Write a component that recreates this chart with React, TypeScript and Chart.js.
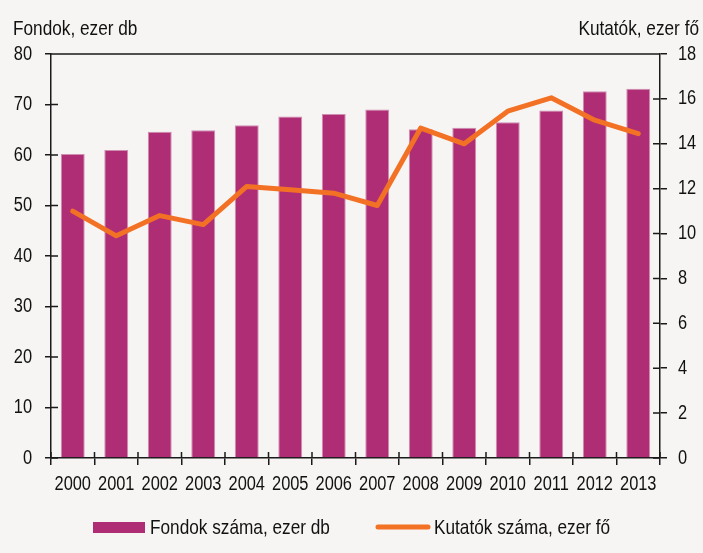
import React, { useEffect, useRef } from "react";
import { Chart, registerables } from "chart.js";

Chart.register(...registerables);

const years = ["2000", "2001", "2002", "2003", "2004", "2005", "2006", "2007", "2008", "2009", "2010", "2011", "2012", "2013"];
const fondokSzama = [60.2, 61.0, 64.6, 64.9, 65.9, 67.6, 68.1, 69.0, 65.1, 65.4, 66.5, 68.8, 72.6, 73.1];
const kutatokSzama = [11.0, 9.9, 10.8, 10.4, 12.1, 11.95, 11.8, 11.25, 14.7, 14.0, 15.45, 16.05, 15.05, 14.45];
const leftAxisTitle = "Fondok, ezer db";
const rightAxisTitle = "Kutatók, ezer fő";
const barLabel = "Fondok száma, ezer db";
const lineLabel = "Kutatók száma, ezer fő";

const FONT = "'Liberation Sans', Arial, sans-serif";
const NARROW = 0.82;
const BG = "#F6F5F3";
const BAR = "#AF2D74";
const LINE = "#F37124";
const AXIS = "#1a1a1a";
const TEXT = "#111111";

function condenseText(ctx: CanvasRenderingContext2D) {
  const anyCtx = ctx as any;
  if (anyCtx.__condensed) return;
  anyCtx.__condensed = true;
  const origFill = ctx.fillText.bind(ctx);
  const origMeasure = ctx.measureText.bind(ctx);
  anyCtx.fillText = (text: string, x: number, y: number, maxWidth?: number) => {
    ctx.save();
    ctx.translate(x, y);
    ctx.scale(NARROW, 1);
    if (maxWidth !== undefined) origFill(text, 0, 0, maxWidth / NARROW);
    else origFill(text, 0, 0);
    ctx.restore();
  };
  anyCtx.measureText = (text: string) => {
    const m = origMeasure(text);
    return {
      width: m.width * NARROW,
      actualBoundingBoxAscent: m.actualBoundingBoxAscent,
      actualBoundingBoxDescent: m.actualBoundingBoxDescent,
      actualBoundingBoxLeft: m.actualBoundingBoxLeft * NARROW,
      actualBoundingBoxRight: m.actualBoundingBoxRight * NARROW,
    };
  };
}

const extras = {
  id: "extras",
  afterDraw(chart: any) {
    const { ctx, chartArea: a, scales } = chart;
    const x = scales.x, yl = scales.y, yr = scales.y1;
    ctx.save();
    ctx.strokeStyle = AXIS;
    ctx.lineWidth = 1.5;
    ctx.beginPath();
    ctx.moveTo(a.left, a.top);
    ctx.lineTo(a.right, a.top);
    yl.ticks.forEach((_t: any, i: number) => {
      const py = yl.getPixelForTick(i);
      ctx.moveTo(a.left, py);
      ctx.lineTo(a.left + 7, py);
    });
    yr.ticks.forEach((_t: any, i: number) => {
      const py = yr.getPixelForTick(i);
      ctx.moveTo(a.right, py);
      ctx.lineTo(a.right - 7, py);
    });
    for (let i = 0; i <= years.length; i++) {
      const px = x.getPixelForValue(i - 0.5);
      ctx.moveTo(px, a.bottom);
      ctx.lineTo(px, a.bottom - 6);
    }
    ctx.stroke();

    ctx.fillStyle = TEXT;
    ctx.font = `21px ${FONT}`;
    ctx.textBaseline = "alphabetic";
    ctx.textAlign = "left";
    ctx.fillText(leftAxisTitle, 13, 35);
    ctx.textAlign = "right";
    ctx.fillText(rightAxisTitle, 699, 35);

    // legend
    const ds = chart.data.datasets;
    ctx.textAlign = "left";
    ctx.fillStyle = ds[0].backgroundColor;
    ctx.fillRect(93, 522, 52, 11);
    ctx.fillStyle = TEXT;
    ctx.fillText(ds[0].label, 150, 534);
    ctx.strokeStyle = ds[1].borderColor;
    ctx.lineWidth = 5;
    ctx.lineCap = "round";
    ctx.beginPath();
    ctx.moveTo(378, 527);
    ctx.lineTo(428, 527);
    ctx.stroke();
    ctx.fillText(ds[1].label, 434, 534);
    ctx.restore();
  },
};

export default function App() {
  const ref = useRef<HTMLCanvasElement>(null);
  useEffect(() => {
    document.body.style.margin = "0";
    document.body.style.background = BG;
    const canvas = ref.current as HTMLCanvasElement;
    const c2d = canvas.getContext("2d") as CanvasRenderingContext2D;
    condenseText(c2d);
    const chart = new Chart(canvas, {
      type: "bar",
      data: {
        labels: years,
        datasets: [
          {
            type: "bar",
            label: barLabel,
            data: fondokSzama,
            backgroundColor: BAR,
            borderColor: "#CF8DB1",
            borderWidth: 1,
            barPercentage: 0.55,
            categoryPercentage: 1,
            yAxisID: "y",
            order: 2,
          },
          {
            type: "line",
            label: lineLabel,
            data: kutatokSzama,
            borderColor: LINE,
            backgroundColor: LINE,
            borderWidth: 5,
            pointRadius: 0,
            tension: 0,
            borderJoinStyle: "round",
            borderCapStyle: "round",
            yAxisID: "y1",
            order: 1,
          },
        ] as any,
      },
      options: {
        responsive: false,
        animation: false,
        layout: { padding: { top: 54, bottom: 50, left: 0, right: 0 } },
        plugins: { legend: { display: false }, tooltip: { enabled: false }, title: { display: false } },
        font: { family: FONT, size: 20 },
        scales: {
          x: {
            offset: true,
            grid: { offset: true, drawOnChartArea: false, drawTicks: true, tickLength: 7, color: AXIS, lineWidth: 1.5 },
            border: { display: true, color: AXIS, width: 1.5 },
            ticks: { color: TEXT, font: { family: FONT, size: 20 }, padding: 7, maxRotation: 0, autoSkip: false },
            afterFit: (s: any) => { s.height = 45; },
          },
          y: {
            position: "left",
            min: 0,
            max: 80,
            ticks: { stepSize: 10, color: TEXT, font: { family: FONT, size: 20 }, padding: 13 },
            grid: { drawOnChartArea: false, drawTicks: true, tickLength: 6, color: AXIS, lineWidth: 1.5 },
            border: { display: true, color: AXIS, width: 1.5 },
            afterFit: (s: any) => { s.width = 51; },
          },
          y1: {
            position: "right",
            min: 0,
            max: 18,
            ticks: { stepSize: 2, color: TEXT, font: { family: FONT, size: 20 }, padding: 11 },
            grid: { drawOnChartArea: false, drawTicks: true, tickLength: 7, color: AXIS, lineWidth: 1.5 },
            border: { display: true, color: AXIS, width: 1.5 },
            afterFit: (s: any) => { s.width = 43; },
          },
        },
      } as any,
      plugins: [extras],
    });
    return () => chart.destroy();
  }, []);
  return <canvas ref={ref} width={703} height={553} style={{ display: "block" }} />;
}
